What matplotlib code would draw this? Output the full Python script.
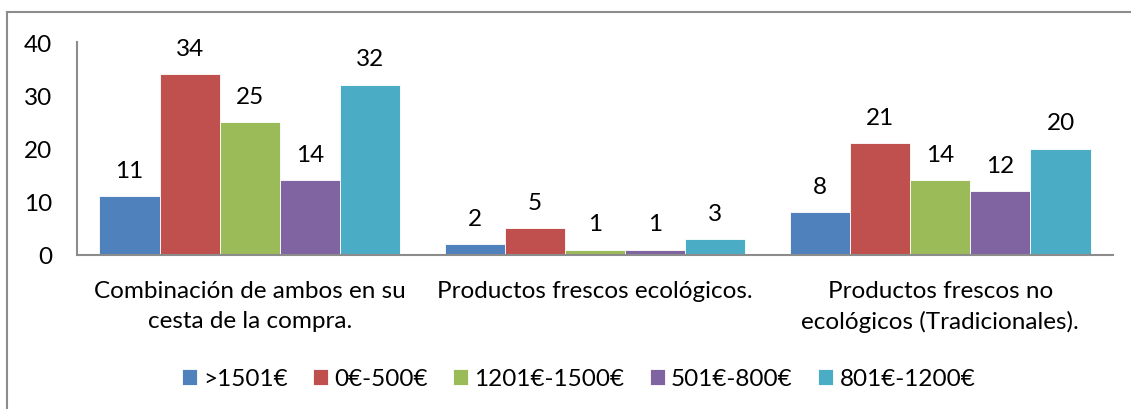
import matplotlib
matplotlib.use("Agg")
import matplotlib.pyplot as plt
from matplotlib.lines import Line2D
import numpy as np

categories = ["Combinación de ambos en su\ncesta de la compra.",
              "Productos frescos ecológicos.",
              "Productos frescos no\necológicos (Tradicionales)."]
series_names = [">1501€", "0€-500€", "1201€-1500€", "501€-800€", "801€-1200€"]
values = {
    ">1501€": [11, 2, 8],
    "0€-500€": [34, 5, 21],
    "1201€-1500€": [25, 1, 14],
    "501€-800€": [14, 1, 12],
    "801€-1200€": [32, 3, 20],
}
colors = ["#4F81BD", "#C0504D", "#9BBB59", "#8064A2", "#4BACC6"]
yticks = [0, 10, 20, 30, 40]

plt.rcParams['font.family'] = ['Lato', 'DejaVu Sans']
FS = 17.5

fig = plt.figure(figsize=(11.31, 4.10), dpi=100)
ax = fig.add_axes([77/1131, 1-256/410, (1113-77)/1131, (256-43)/410])

x = np.arange(len(categories))
bw = 0.174
for i, name in enumerate(series_names):
    pos = x + (i - 2) * bw
    bars = ax.bar(pos, values[name], width=bw, color=colors[i], edgecolor='white', linewidth=0.6, label=name)
    for xp, v in zip(pos, values[name]):
        ax.annotate(str(v), (xp, v), xytext=(0, 11), textcoords='offset points',
                    ha='center', va='bottom', fontsize=FS, color='black')

ax.set_xlim(-0.5, 2.5)
ax.set_ylim(0, 40)
ax.set_yticks(yticks)
ax.set_xticks(x)
ax.set_xticklabels(categories, fontsize=FS, linespacing=1.5)
ax.tick_params(axis='y', length=0, pad=18, labelsize=FS)
ax.tick_params(axis='x', length=0, pad=18)
for s in ['top', 'right']:
    ax.spines[s].set_visible(False)
for s in ['left', 'bottom']:
    ax.spines[s].set_color('#8C8C8C')
    ax.spines[s].set_linewidth(1.5)

leg = fig.legend(loc='center', bbox_to_anchor=(578.5/1131, 1-380/410), ncol=5, frameon=False,
                 fontsize=FS, handlelength=0.62, handleheight=0.62, handletextpad=0.25,
                 columnspacing=1.05)

fig.add_artist(Line2D([7/1131, 1.0], [1-13/410, 1-13/410], color='#8C8C8C', linewidth=1.5, transform=fig.transFigure))
fig.add_artist(Line2D([7/1131, 7/1131], [0, 1-13/410], color='#8C8C8C', linewidth=1.5, transform=fig.transFigure))

fig.savefig("out.png", dpi=100)
